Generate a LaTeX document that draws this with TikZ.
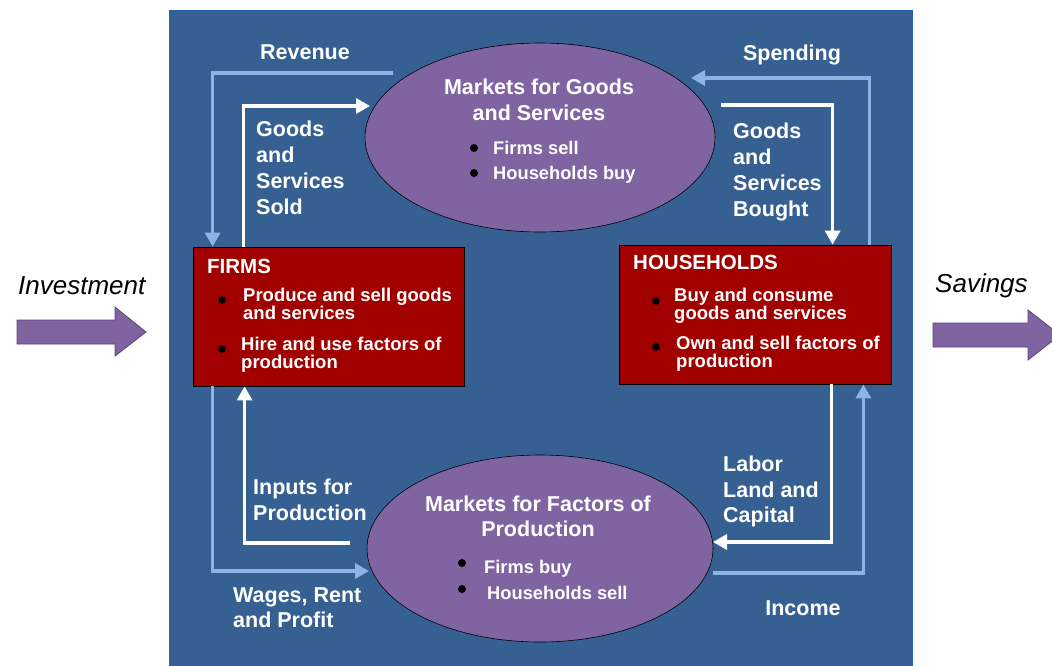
\documentclass[tikz,border=0pt]{standalone}
\usepackage{fontspec}
\setmainfont{Liberation Sans}
\usetikzlibrary{arrows.meta,shapes.geometric}
\definecolor{bgblue}{RGB}{55,96,146}
\definecolor{edgeblue}{RGB}{30,100,170}
\definecolor{lblue}{RGB}{141,180,226}
\definecolor{boxred}{RGB}{160,0,0}
\definecolor{mktpurple}{RGB}{128,100,162}
\definecolor{arredge}{RGB}{88,70,115}
\begin{document}
\begin{tikzpicture}[x=1pt,y=-1pt,
  flowW/.style={draw=white, line width=3.4pt, -{Triangle[length=14pt,width=15pt]}},
  flowB/.style={draw=lblue, line width=3.4pt, -{Triangle[length=14pt,width=15pt]}},
  agentbox/.style={draw=black, line width=0.8pt, fill=boxred, rectangle, inner sep=0pt},
  market/.style={draw=black, line width=0.6pt, fill=mktpurple, ellipse, inner sep=0pt},
  bigtxt/.style={text=white, font=\bfseries\fontsize{21.5}{26}\selectfont, inner sep=0pt, align=left},
  midtxt/.style={text=white, font=\bfseries\fontsize{18.3}{25}\selectfont, inner sep=0pt},
  boxtxt/.style={text=white, font=\bfseries\fontsize{18.5}{18}\selectfont, inner sep=0pt, align=left, anchor=north west},
  titletxt/.style={text=white, font=\bfseries\fontsize{20.5}{24}\selectfont, inner sep=0pt, anchor=base west},
  sidetxt/.style={text=black, font=\itshape\fontsize{26}{30}\selectfont, inner sep=0pt, anchor=base west},
  bigarrow/.style={fill=mktpurple, draw=arredge, line width=0.8pt}
]
\useasboundingbox (0,0) rectangle (1052,665);
\clip (0,0) rectangle (1052,665);
\fill[white] (0,0) rectangle (1052,665);
% background panel
\filldraw[fill=bgblue, draw=edgeblue, line width=1pt] (169,10) rectangle (912,667);

% agents and markets
\node[agentbox, minimum width=271pt, minimum height=139pt] (firms) at (328.5,316.5) {};
\node[agentbox, minimum width=272pt, minimum height=139pt] (hh) at (755,314.5) {};

% connector end coordinates
\coordinate (revS) at (393,73);
\coordinate (gsIn) at (370,106);
\coordinate (spIn) at (691,78);
\coordinate (gbS) at (721,105);
\coordinate (ipS) at (350,543);
\coordinate (wgIn) at (369,571);
\coordinate (lbIn) at (713,542);
\coordinate (inS) at (713,573);

% flows
\draw[flowB] (revS) -| ([xshift=20pt]firms.north west);
\draw[flowW] ([xshift=51pt]firms.north west) |- (gsIn);
\draw[flowB] ([xshift=-22pt]hh.north east) |- (spIn);
\draw[flowW] (gbS) -| ([xshift=214pt]hh.north west);
\draw[flowW] (ipS) -| ([xshift=52pt]firms.south west);
\draw[flowB] ([xshift=20pt]firms.south west) |- (wgIn);
\draw[flowW] ([xshift=213pt]hh.south west) |- (lbIn);
\draw[flowB] (inS) -| ([xshift=-28pt]hh.south east);

\node[market, minimum width=350pt, minimum height=189pt] (mg) at (540,137.5) {};
\node[market, minimum width=346pt, minimum height=187pt] (mf) at (540,548.5) {};

% market texts
\node[bigtxt, align=center, anchor=north] (tMG) at (539,79) {Markets for Goods\\and Services};
\fill[black] (474,148) circle[radius=4pt];
\fill[black] (474,173) circle[radius=4pt];
\node[midtxt, anchor=base west] (tMG1) at (493,154) {Firms sell};
\node[midtxt, anchor=base west] (tMG2) at (493,179) {Households buy};

\node[bigtxt, align=center, anchor=north, font=\bfseries\fontsize{21.5}{25}\selectfont] (tMF) at (538,496) {Markets for Factors of\\Production};
\fill[black] (462,563) circle[radius=4pt];
\fill[black] (462,589) circle[radius=4pt];
\node[midtxt, anchor=base west] (tMF1) at (484,573) {Firms buy};
\node[midtxt, anchor=base west] (tMF2) at (487,599) {Households sell};

% box texts
\node[titletxt] (tF) at (207,273) {FIRMS};
\fill[black] (222,300) circle[radius=3.8pt];
\fill[black] (222,349) circle[radius=3.8pt];
\node[boxtxt] (tF1) at (243,288) {Produce and sell goods\\and services};
\node[boxtxt] (tF2) at (241,337) {Hire and use factors of\\production};

\node[titletxt] (tH) at (633,269) {HOUSEHOLDS};
\fill[black] (656,301) circle[radius=3.8pt];
\fill[black] (656,347) circle[radius=3.8pt];
\node[boxtxt] (tH1) at (674,288) {Buy and consume\\goods and services};
\node[boxtxt] (tH2) at (676,336) {Own and sell factors of\\production};

% flow labels
\node[bigtxt, anchor=base] (lRev) at (305,59) {Revenue};
\node[bigtxt, anchor=base] (lSp) at (792,60) {Spending};
\node[bigtxt, anchor=base] (lInc) at (803,615) {Income};
\node[bigtxt, anchor=north west] (lGS) at (256,121) {Goods\\and\\Services\\Sold};
\node[bigtxt, anchor=north west] (lGB) at (733,123) {Goods\\and\\Services\\Bought};
\node[bigtxt, anchor=north west] (lIn) at (253,479) {Inputs for\\Production};
\node[bigtxt, anchor=north west, font=\bfseries\fontsize{21.5}{25}\selectfont] (lWg) at (233,587) {Wages, Rent\\and Profit};
\node[bigtxt, anchor=north west, font=\bfseries\fontsize{21.5}{25.5}\selectfont] (lLb) at (723,456) {Labor\\Land and\\Capital};

% investment and savings
\node[sidetxt] (tInv) at (18,294) {Investment};
\draw[bigarrow] (17,320) -- (115,320) -- (115,307) -- (146,332) -- (115,356) -- (115,344) -- (17,344) -- cycle;
\node[sidetxt] (tSav) at (935,292) {Savings};
\draw[bigarrow] (933,323) -- (1028,323) -- (1028,310) -- (1060,335) -- (1028,360) -- (1028,347) -- (933,347) -- cycle;
\end{tikzpicture}
\end{document}
